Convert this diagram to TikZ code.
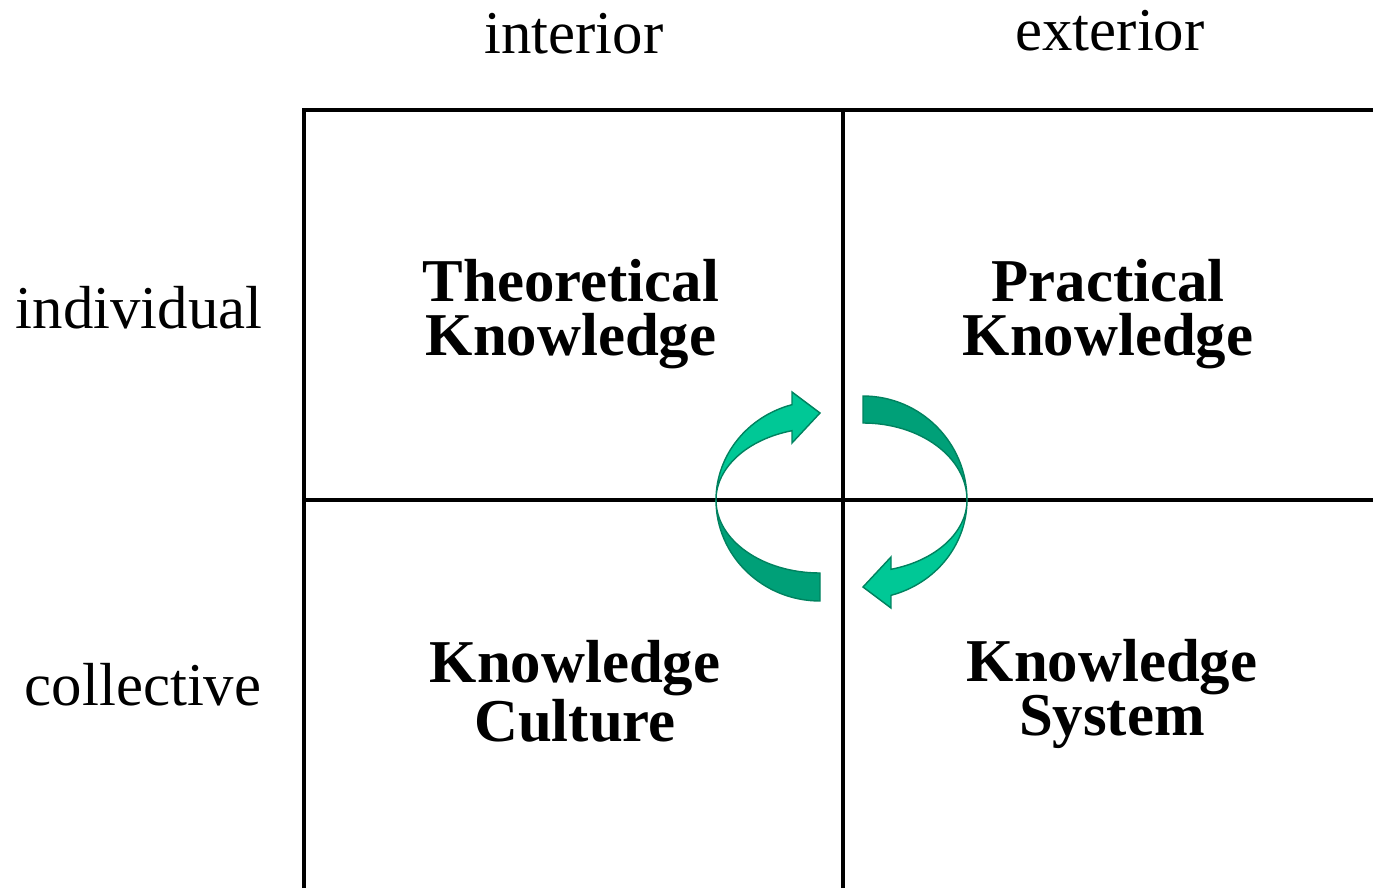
\documentclass[tikz,border=0pt]{standalone}
\usepackage{fontspec}
\setmainfont{Liberation Serif}

\definecolor{ribbonlite}{RGB}{0,200,150}
\definecolor{ribbondeep}{RGB}{0,160,120}
\definecolor{ribbonedge}{RGB}{0,130,95}

\tikzset{
  axislabel/.style={font=\fontsize{17.3}{20}\selectfont, inner sep=0pt},
  quadlabel/.style={font=\fontsize{17.3}{15.4}\selectfont\bfseries, align=center, inner sep=0pt},
  gridline/.style={line width=1.1pt},
  frontside/.style={fill=ribbonlite, draw=ribbonedge, line width=0.4pt},
  backside/.style={fill=ribbondeep, draw=ribbonedge, line width=0.4pt}
}

\begin{document}
\begin{tikzpicture}
    \useasboundingbox (0,0) rectangle (13.73,8.88);
    % grid of the four quadrants
    \draw [gridline] (3.04,0) -- (3.04,7.78) -- (13.73,7.78);
    \draw [gridline] (8.43,0) -- (8.43,7.78);
    \draw [gridline] (3.04,3.88) -- (13.73,3.88);
    % axis labels
    \node [axislabel, anchor=base] (int) at (5.74,8.35) {interior};
    \node [axislabel, anchor=base] (ext) at (11.10,8.38) {exterior};
    \node [axislabel, anchor=base east] (ind) at (2.63,5.60) {individual};
    \node [axislabel, anchor=base east] (col) at (2.62,1.83) {collective};
    % quadrants
    \node [quadlabel] (theo) at (5.71,5.74) {Theoretical\\Knowledge};
    \node [quadlabel] (prac) at (11.08,5.74) {Practical\\Knowledge};
    \node [quadlabel] (cult) at (5.75,1.97) {Knowledge\\Culture};
    \node [quadlabel] (syst) at (11.12,1.94) {Knowledge\\System};
    % left ribbon arrow
    \begin{scope}[shift={(8.20,3.88)}]
      \draw [backside] (-1.04,0) arc [start angle=180, end angle=270, x radius=1.04, y radius=1.01]
        -- (0,-0.73) arc [start angle=270, end angle=180, x radius=1.04, y radius=0.73] -- cycle;
      \draw [frontside] (-1.04,0) arc [start angle=180, end angle=105.6, x radius=1.04, y radius=0.99]
        -- (-0.28,1.08) -- (0,0.87) -- (-0.28,0.57) -- (-0.28,0.693)
        arc [start angle=105.6, end angle=180, x radius=1.04, y radius=0.72] -- cycle;
    \end{scope}
    % right ribbon arrow
    \begin{scope}[shift={(8.63,3.88)}, rotate=180]
      \draw [backside] (-1.04,0) arc [start angle=180, end angle=270, x radius=1.04, y radius=1.04]
        -- (0,-0.77) arc [start angle=270, end angle=180, x radius=1.04, y radius=0.77] -- cycle;
      \draw [frontside] (-1.04,0) arc [start angle=180, end angle=105.6, x radius=1.04, y radius=0.99]
        -- (-0.28,1.08) -- (0,0.87) -- (-0.28,0.57) -- (-0.28,0.693)
        arc [start angle=105.6, end angle=180, x radius=1.04, y radius=0.72] -- cycle;
    \end{scope}
\end{tikzpicture}
\end{document}
